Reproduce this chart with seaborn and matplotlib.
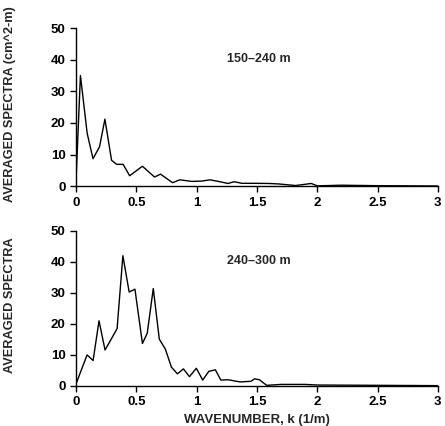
import matplotlib
matplotlib.use("Agg")
import matplotlib.pyplot as plt
import seaborn as sns
import pandas as pd

k_top = [0, 0.036, 0.092, 0.14, 0.194, 0.239, 0.294, 0.336, 0.39, 0.444, 0.55, 0.65, 0.7, 0.8,
         0.86, 0.96, 1.04, 1.11, 1.18, 1.26, 1.31, 1.375, 1.49, 1.6, 1.68, 1.82, 1.95, 2.0,
         2.2, 2.5, 3.0]
s_top = [2.3, 35, 16.7, 8.7, 12.4, 21.2, 8.2, 6.9, 6.9, 3.3, 6.3, 2.9, 3.8, 1.1,
         2.0, 1.5, 1.6, 2.0, 1.5, 0.85, 1.4, 0.9, 0.9, 0.85, 0.7, 0.2, 0.85, 0.1,
         0.3, 0.15, 0.05]

k_bot = [0, 0.091, 0.141, 0.19, 0.24, 0.29, 0.34, 0.388, 0.44, 0.488, 0.55, 0.59, 0.64, 0.69,
         0.74, 0.79, 0.84, 0.89, 0.94, 0.997, 1.05, 1.1, 1.155, 1.2, 1.26, 1.36, 1.45, 1.48,
         1.52, 1.58, 1.7, 1.9, 2.0, 2.5, 3.0]
s_bot = [0.7, 10, 8.2, 21, 11.6, 15, 18.5, 42, 30.3, 31.2, 13.7, 17, 31.4, 15.1,
         11.9, 6.1, 3.9, 5.5, 3, 5.7, 1.9, 4.7, 5.2, 1.9, 2, 1.3, 1.5, 2.3,
         2, 0.2, 0.5, 0.5, 0.3, 0.2, 0.1]

labels = ["150\u2013240 m", "240\u2013300 m"]
ylabels = ["AVERAGED SPECTRA (cm^2-m)", "AVERAGED SPECTRA"]
xticks = [0, 0.5, 1, 1.5, 2, 2.5, 3]
xticklabels = ["0", "0.5", "1", "1.5", "2", "2.5", "3"]
yticks = [0, 10, 20, 30, 40, 50]

sns.set_style("ticks")
plt.rcParams['font.family'] = ['Liberation Sans', 'DejaVu Sans']
plt.rcParams['font.weight'] = 'bold'

fig = plt.figure(figsize=(4.45, 4.26), dpi=100)
ax1 = fig.add_axes([0.171, 0.563, 0.813, 0.371])
ax2 = fig.add_axes([0.171, 0.094, 0.813, 0.364])

for ax, k, s, lab, yl in [(ax1, k_top, s_top, labels[0], ylabels[0]),
                          (ax2, k_bot, s_bot, labels[1], ylabels[1])]:
    df = pd.DataFrame({"k": k, "s": s})
    sns.lineplot(data=df, x="k", y="s", ax=ax, color="black", linewidth=1.0)
    ax.set_xlim(0, 3)
    ax.set_ylim(0, 50)
    ax.set_xticks(xticks)
    ax.set_xticklabels(xticklabels)
    ax.set_yticks(yticks)
    sns.despine(ax=ax)
    ax.tick_params(axis='both', labelsize=9.5, length=4, width=1, direction='out', colors='black')
    for t in ax.get_xticklabels() + ax.get_yticklabels():
        t.set_fontweight('bold')
    for sp in ax.spines.values():
        sp.set_color('black')
        sp.set_linewidth(1)
    ax.set_ylabel(yl, fontsize=9.2, fontweight='bold')
    ax.set_xlabel("")
    ax.text(1.25, 40.2, lab, fontsize=9, fontweight='bold', ha='left', va='center')

ax1.yaxis.set_label_coords(-0.165, 0.52)
ax2.yaxis.set_label_coords(-0.165, 0.52)
ax2.set_xlabel("WAVENUMBER, k (1/m)", fontsize=9.5, fontweight='bold')

fig.savefig("out.png", dpi=100)
